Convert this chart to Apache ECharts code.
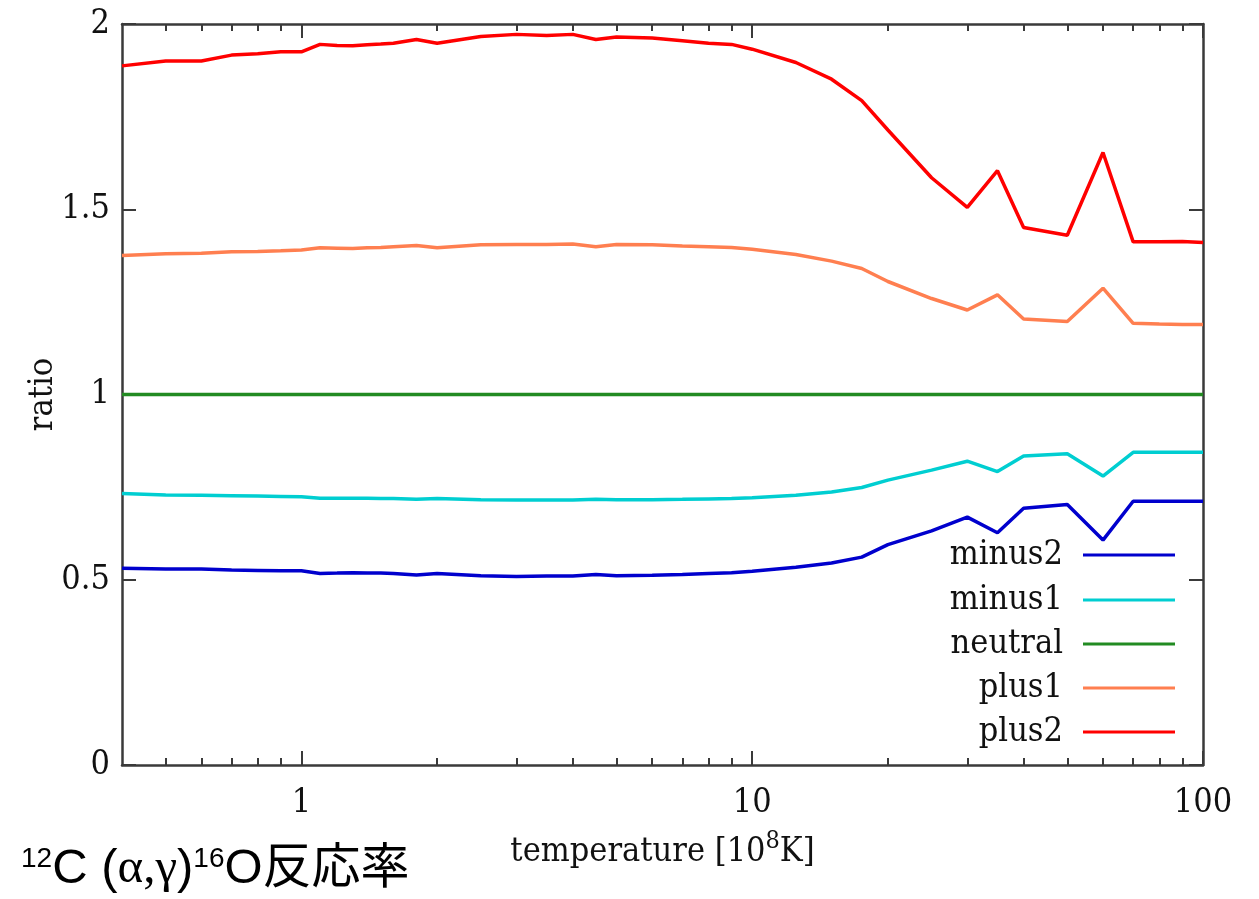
<!DOCTYPE html>
<html>
<head>
<meta charset="utf-8">
<script src="https://cdn.jsdelivr.net/npm/echarts@6/dist/echarts.min.js"></script>
<style>
  html, body { margin: 0; padding: 0; background: #ffffff; }
  #chart { width: 1259px; height: 899px; }
</style>
</head>
<body>
<div id="chart"></div>
<script>
// Temperature grid in units of 10^8 K
const temps = [0.4, 0.5, 0.6, 0.7, 0.8, 0.9, 1, 1.1, 1.2, 1.3, 1.4, 1.5, 1.6, 1.8, 2, 2.5, 3, 3.5, 4, 4.5,
  5, 6, 7, 8, 9, 10, 12.5, 15, 17.5, 20, 25, 30, 35, 40, 50, 60, 70, 80, 90, 100];

// Rate ratios relative to the neutral case
const minus2 = [0.531, 0.529, 0.529, 0.526, 0.525, 0.524, 0.524, 0.517, 0.518, 0.519, 0.518, 0.518, 0.517, 0.513, 0.517, 0.511, 0.509, 0.510, 0.510, 0.514,
  0.511, 0.512, 0.514, 0.517, 0.519, 0.523, 0.534, 0.545, 0.561, 0.595, 0.632, 0.669, 0.627, 0.693, 0.703, 0.607, 0.712, 0.712, 0.712, 0.712];
const minus1 = [0.733, 0.729, 0.728, 0.727, 0.726, 0.725, 0.724, 0.720, 0.720, 0.720, 0.720, 0.719, 0.719, 0.717, 0.719, 0.716, 0.715, 0.715, 0.715, 0.717,
  0.716, 0.716, 0.717, 0.718, 0.719, 0.721, 0.728, 0.737, 0.749, 0.769, 0.796, 0.820, 0.792, 0.834, 0.840, 0.780, 0.844, 0.844, 0.844, 0.844];
const neutral = [1, 1, 1, 1, 1, 1, 1, 1, 1, 1, 1, 1, 1, 1, 1, 1, 1, 1, 1, 1,
  1, 1, 1, 1, 1, 1, 1, 1, 1, 1, 1, 1, 1, 1, 1, 1, 1, 1, 1, 1];
const plus1 = [1.375, 1.380, 1.381, 1.385, 1.386, 1.388, 1.390, 1.396, 1.395, 1.394, 1.396, 1.397, 1.399, 1.402, 1.396, 1.404, 1.405, 1.405, 1.406, 1.399,
  1.405, 1.404, 1.401, 1.399, 1.397, 1.392, 1.378, 1.360, 1.340, 1.305, 1.259, 1.228, 1.269, 1.204, 1.197, 1.287, 1.192, 1.190, 1.189, 1.189];
const plus2 = [1.887, 1.900, 1.900, 1.916, 1.920, 1.925, 1.925, 1.945, 1.942, 1.941, 1.944, 1.946, 1.948, 1.958, 1.948, 1.966, 1.972, 1.969, 1.972, 1.958,
  1.965, 1.962, 1.955, 1.948, 1.945, 1.932, 1.896, 1.851, 1.793, 1.714, 1.585, 1.505, 1.604, 1.451, 1.430, 1.653, 1.412, 1.412, 1.413, 1.410];

const seriesNames = ['minus2', 'minus1', 'neutral', 'plus1', 'plus2'];
const seriesValues = [minus2, minus1, neutral, plus1, plus2];
const seriesColors = ['#0000cd', '#00ced1', '#228b22', '#ff7f50', '#ff0000'];

// Axis ticks
const xMajorTicks = [1, 10, 100];
const xMinorTicks = [0.5, 0.6, 0.7, 0.8, 0.9, 2, 3, 4, 5, 6, 7, 8, 9, 20, 30, 40, 50, 60, 70, 80, 90];
const yTickStep = 0.5;

const FONT = '"DejaVu Serif Condensed", "DejaVu Serif", serif';
const AXIS_COLOR = '#3a3a3a';
const TEXT_COLOR = '#111111';

function logAxis(pos, ticks, tickLen, showLine, showLabels, extra) {
  return Object.assign({
    type: 'log',
    logBase: 10,
    position: pos,
    min: 0.4,
    max: 100,
    gridIndex: 0,
    axisLine: { show: showLine, lineStyle: { color: AXIS_COLOR, width: 2.5 } },
    axisTick: { show: true, inside: true, length: tickLen, customValues: ticks,
      lineStyle: { color: AXIS_COLOR, width: 2 } },
    axisLabel: showLabels ? { show: true, customValues: ticks, margin: 21,
      fontFamily: FONT, fontSize: 34, color: TEXT_COLOR,
      formatter: v => String(v) } : { show: false },
    splitLine: { show: false },
    minorTick: { show: false }
  }, extra || {});
}

function valueAxis(pos, showLabels, extra) {
  return Object.assign({
    type: 'value',
    position: pos,
    min: 0,
    max: 2,
    interval: yTickStep,
    axisLine: { show: true, lineStyle: { color: AXIS_COLOR, width: 2.5 } },
    axisTick: { show: true, inside: true, length: 14, lineStyle: { color: AXIS_COLOR, width: 2 } },
    axisLabel: showLabels ? { show: true, margin: 12, fontFamily: FONT, fontSize: 34, color: TEXT_COLOR,
      formatter: v => String(v) } : { show: false },
    splitLine: { show: false }
  }, extra || {});
}

const legendTops = [533, 578, 622, 666, 710];

const option = {
  animation: false,
  backgroundColor: '#ffffff',
  title: {
    left: 16,
    top: 840,
    text: '{sup|12}{b|C (}{g|α,γ}{b|)}{sup|16}{b|O反応率}',
    textStyle: {
      fontWeight: 'normal',
      rich: {
        b: { fontFamily: '"Liberation Sans", "Noto Sans CJK JP", sans-serif', fontSize: 49, fontWeight: 'normal', color: '#000000' },
        g: { fontFamily: '"Liberation Serif", "DejaVu Serif", serif', fontSize: 49, fontWeight: 'normal', color: '#000000' },
        sup: { fontFamily: '"Liberation Sans", sans-serif', fontSize: 28, fontWeight: 'normal', color: '#000000', verticalAlign: 'top', padding: [0, 0, 15, 0] }
      }
    }
  },
  legend: seriesNames.map((n, i) => ({
    data: [n],
    right: 79,
    top: legendTops[i],
    align: 'right',
    icon: 'rect',
    itemWidth: 92,
    itemHeight: 3,
    selectedMode: false,
    textStyle: { fontFamily: FONT, fontSize: 34, color: TEXT_COLOR, padding: [0, 15, 0, 0] }
  })),
  grid: { left: 122, right: 56, top: 24, bottom: 134, containLabel: false },
  xAxis: [
    logAxis('bottom', xMajorTicks, 14, true, true, {
      name: 'temperature [10{s|8}K]',
      nameLocation: 'middle',
      nameGap: 64,
      nameTextStyle: {
        fontFamily: FONT, fontSize: 34, color: TEXT_COLOR,
        rich: { s: { fontFamily: FONT, fontSize: 25, color: TEXT_COLOR, verticalAlign: 'top', padding: [0, 0, 22, 0] } }
      }
    }),
    logAxis('bottom', xMinorTicks, 7, false, false),
    logAxis('top', xMajorTicks, 14, true, false),
    logAxis('top', xMinorTicks, 7, false, false)
  ],
  yAxis: [
    valueAxis('left', true, {
      name: 'ratio',
      nameLocation: 'middle',
      nameGap: 62,
      nameMoveOverlap: false,
      nameTextStyle: { fontFamily: FONT, fontSize: 34, color: TEXT_COLOR }
    }),
    valueAxis('right', false)
  ],
  series: seriesNames.map((n, i) => ({
    name: n,
    type: 'line',
    xAxisIndex: 0,
    yAxisIndex: 0,
    data: temps.map((t, k) => [t, seriesValues[i][k]]),
    showSymbol: false,
    symbol: 'none',
    color: seriesColors[i],
    lineStyle: { color: seriesColors[i], width: 3.5 },
    itemStyle: { color: seriesColors[i] },
    z: 2 + i
  }))
};

const chart = echarts.init(document.getElementById('chart'), null, { renderer: 'canvas' });
chart.setOption(option);
</script>
</body>
</html>
